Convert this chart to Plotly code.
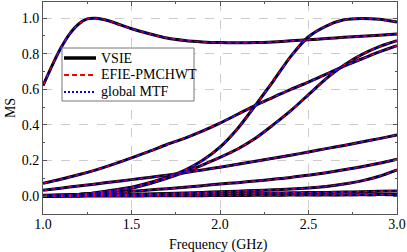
import plotly.graph_objects as go

freq = [1.0, 1.1, 1.2, 1.3, 1.4, 1.5, 1.6, 1.7, 1.8, 1.9, 2.0,
        2.1, 2.2, 2.3, 2.4, 2.5, 2.6, 2.7, 2.8, 2.9, 3.0]

freq_top = [1.0, 1.05, 1.1, 1.15, 1.2, 1.25, 1.3, 1.35, 1.4, 1.5, 1.6, 1.7, 1.8,
            1.9, 2.0, 2.1, 2.2, 2.3, 2.4, 2.5, 2.6, 2.7, 2.8, 2.9, 3.0]
ms_top = [0.62, 0.73, 0.83, 0.91, 0.965, 0.995, 0.999, 0.99, 0.975, 0.94, 0.912, 0.888,
          0.874, 0.866, 0.862, 0.861, 0.862, 0.866, 0.872, 0.878, 0.885, 0.892,
          0.898, 0.904, 0.91]

ms_a = [0.072, 0.095, 0.12, 0.148, 0.18, 0.215, 0.252, 0.29, 0.325, 0.365, 0.41,
        0.46, 0.51, 0.555, 0.60, 0.64, 0.685, 0.73, 0.77, 0.81, 0.845]
ms_c = [0.0, 0.003, 0.01, 0.02, 0.035, 0.05, 0.075, 0.105, 0.145, 0.2, 0.275,
        0.38, 0.51, 0.645, 0.785, 0.895, 0.955, 0.99, 0.998, 0.993, 0.978]
ms_b = [0.0, 0.004, 0.01, 0.018, 0.03, 0.045, 0.07, 0.1, 0.135, 0.175, 0.218,
        0.265, 0.325, 0.40, 0.48, 0.57, 0.66, 0.735, 0.795, 0.84, 0.873]
ms_d = [0.033, 0.045, 0.057, 0.069, 0.081, 0.093, 0.105, 0.118, 0.132, 0.147, 0.163,
        0.179, 0.196, 0.213, 0.23, 0.248, 0.267, 0.285, 0.304, 0.323, 0.343]
ms_e = [0.003, 0.006, 0.01, 0.015, 0.02, 0.027, 0.035, 0.042, 0.05, 0.059, 0.068,
        0.076, 0.085, 0.095, 0.105, 0.118, 0.132, 0.148, 0.165, 0.185, 0.208]
ms_f = [0.0, 0.001, 0.003, 0.005, 0.007, 0.01, 0.012, 0.015, 0.018, 0.021, 0.025,
        0.028, 0.032, 0.036, 0.04, 0.046, 0.055, 0.068, 0.086, 0.112, 0.148]
ms_g = [0.005, 0.006, 0.007, 0.008, 0.009, 0.01, 0.011, 0.012, 0.013, 0.014, 0.015,
        0.016, 0.017, 0.018, 0.019, 0.02, 0.021, 0.023, 0.025, 0.027, 0.029]
ms_h = [0.0, 0.0, 0.0, 0.001, 0.001, 0.001, 0.002, 0.002, 0.003, 0.003, 0.004,
        0.004, 0.005, 0.005, 0.006, 0.006, 0.007, 0.007, 0.008, 0.009, 0.01]

curves = [(freq_top, ms_top), (freq, ms_a), (freq, ms_c), (freq, ms_b), (freq, ms_d),
          (freq, ms_e), (freq, ms_f), (freq, ms_g), (freq, ms_h)]

methods = ["VSIE", "EFIE-PMCHWT", "global MTF"]
styles = [("black", "solid", 3.0), ("red", "5px,3px", 1.5), ("blue", "2px,2px", 1.5)]

fig = go.Figure()
for name, (color, dash, width) in zip(methods, styles):
    for i, (xs, ys) in enumerate(curves):
        fig.add_trace(go.Scatter(
            x=xs, y=ys, mode="lines", name=name,
            line=dict(color=color, dash=dash, width=width, shape="spline", smoothing=0.8),
            showlegend=False, legendgroup=name))

font = "Liberation Serif"
axis_common = dict(
    showline=True, linecolor="#555", linewidth=1, mirror="ticks",
    ticks="inside", ticklen=4, tickcolor="#555",
    showgrid=True, gridcolor="#cccccc", griddash="dash", gridwidth=1,
    zeroline=False, tickfont=dict(family=font, size=14, color="black"),
    automargin=False,
)
fig.update_xaxes(range=[1.0, 3.0], dtick=0.5, tickformat=".1f",
                 minor=dict(ticks="inside", ticklen=2, dtick=0.25, tickcolor="#555", showgrid=False),
                 ticklabelstandoff=-3,
                 **axis_common)
fig.update_yaxes(range=[-0.1, 1.09], dtick=0.2, tickformat=".1f",
                 minor=dict(ticks="inside", ticklen=2, dtick=0.1, tickcolor="#555", showgrid=False),
                 **axis_common)

# Hand-drawn legend box (paper coordinates)
shapes = [dict(type="rect", xref="paper", yref="paper", x0=0.0537, x1=0.4266,
               y0=0.533, y1=0.783, fillcolor="white", line=dict(color="#777", width=1),
               layer="above")]
annotations = []
row_y = [0.7358, 0.6557, 0.5755]
for name, (color, dash, width), yy in zip(methods, styles, row_y):
    shapes.append(dict(type="line", xref="paper", yref="paper", x0=0.0593, x1=0.1497,
                       y0=yy, y1=yy, line=dict(color=color, dash=dash, width=width + 0.5),
                       layer="above"))
    annotations.append(dict(text=name, xref="paper", yref="paper", x=0.157, y=yy,
                            xanchor="left", yanchor="middle", showarrow=False,
                            font=dict(family=font, size=14, color="black")))

annotations += [
    dict(text="Frequency (GHz)", xref="paper", yref="paper", x=0.497, y=-0.146,
         xanchor="center", yanchor="middle", showarrow=False,
         font=dict(family=font, size=14, color="black")),
    dict(text="MS", xref="paper", yref="paper", x=-0.093, y=0.5, textangle=-90,
         xanchor="center", yanchor="middle", showarrow=False,
         font=dict(family=font, size=14, color="black")),
]

fig.update_layout(
    width=407, height=252,
    margin=dict(l=43, r=10, t=2, b=38),
    paper_bgcolor="white", plot_bgcolor="white",
    showlegend=False,
    shapes=shapes,
    annotations=annotations,
)

fig.write_html("out.html", config={"displayModeBar": False},
               post_script="document.body.style.margin='0px';document.body.style.overflow='hidden';")
